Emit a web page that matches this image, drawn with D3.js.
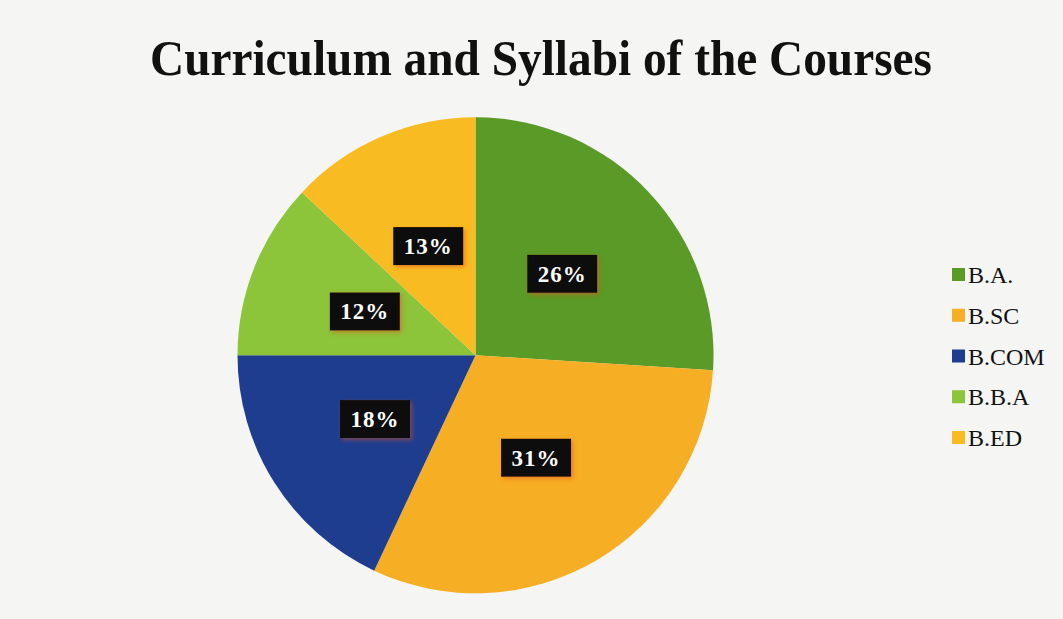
<!DOCTYPE html>
<html>
<head>
<meta charset="utf-8">
<script src="https://cdn.jsdelivr.net/npm/d3@7"></script>
<style>
  html, body { margin: 0; padding: 0; background: #f5f5f3; }
  svg { display: block; }
</style>
</head>
<body>
<svg id="chart" width="1063" height="619"></svg>
<script>
const title = "Curriculum and Syllabi of the Courses";
const categories = ["B.A.", "B.SC", "B.COM", "B.B.A", "B.ED"];
const values = [26, 31, 18, 12, 13];
const labels = ["26%", "31%", "18%", "12%", "13%"];
const colors = ["#5a9a26", "#f6ae24", "#1f3d8e", "#8cc43a", "#f8bc22"];

const W = 1063, H = 619;
const svg = d3.select("#chart");
svg.append("rect").attr("width", W).attr("height", H).attr("fill", "#f5f5f3");

const defs = svg.append("defs");
const f = defs.append("filter").attr("id", "glow").attr("x", "-30%").attr("y", "-30%").attr("width", "160%").attr("height", "160%");
f.append("feDropShadow").attr("dx", 2).attr("dy", 2).attr("stdDeviation", 2).attr("flood-color", "#e0501a").attr("flood-opacity", 0.5);

// Title
const t = svg.append("text")
  .attr("x", 541).attr("y", 75)
  .attr("text-anchor", "middle")
  .attr("font-family", "'Liberation Serif', 'Times New Roman', serif")
  .attr("font-weight", "bold")
  .attr("font-size", 50)
  .attr("fill", "#111")
  .text(title);
t.attr("textLength", 782).attr("lengthAdjust", "spacingAndGlyphs");

// Pie
const cx = 475.5, cy = 355.3, R = 238;
const pie = d3.pie().sort(null).value(d => d.v);
const data = categories.map((c, i) => ({ c, v: values[i], l: labels[i], col: colors[i] }));
const arcs = pie(data);
const arc = d3.arc().innerRadius(0).outerRadius(R);
const g = svg.append("g").attr("transform", `translate(${cx},${cy})`);
g.selectAll("path.slice").data(arcs).join("path")
  .attr("class", "slice")
  .attr("d", arc)
  .attr("fill", d => d.data.col);

// Labels
const lg = g.selectAll("g.lab").data(arcs).join("g")
  .attr("class", "lab")
  .attr("transform", d => { const [x, y] = arc.centroid(d); return `translate(${x},${y})`; });
lg.append("rect")
  .attr("x", -35).attr("y", -19).attr("width", 70).attr("height", 38)
  .attr("fill", "#0d0b0a")
  .attr("filter", "url(#glow)");
lg.append("text")
  .attr("text-anchor", "middle")
  .attr("y", 8)
  .attr("font-family", "'Liberation Serif', 'Times New Roman', serif")
  .attr("font-weight", "bold")
  .attr("font-size", 23)
  .attr("letter-spacing", 1)
  .attr("fill", "#ffffff")
  .text(d => d.data.l);

// Legend
const legY = d3.scalePoint().domain(categories).range([275, 438]);
const leg = svg.append("g");
const items = leg.selectAll("g").data(data).join("g")
  .attr("transform", d => `translate(952,${legY(d.c)})`);
items.append("rect")
  .attr("x", 0).attr("y", -7).attr("width", 13).attr("height", 13)
  .attr("fill", d => d.col);
items.append("text")
  .attr("x", 16).attr("y", 8)
  .attr("font-family", "'Liberation Serif', 'Times New Roman', serif")
  .attr("font-size", 24)
  .attr("fill", "#111")
  .text(d => d.c);
</script>
</body>
</html>
